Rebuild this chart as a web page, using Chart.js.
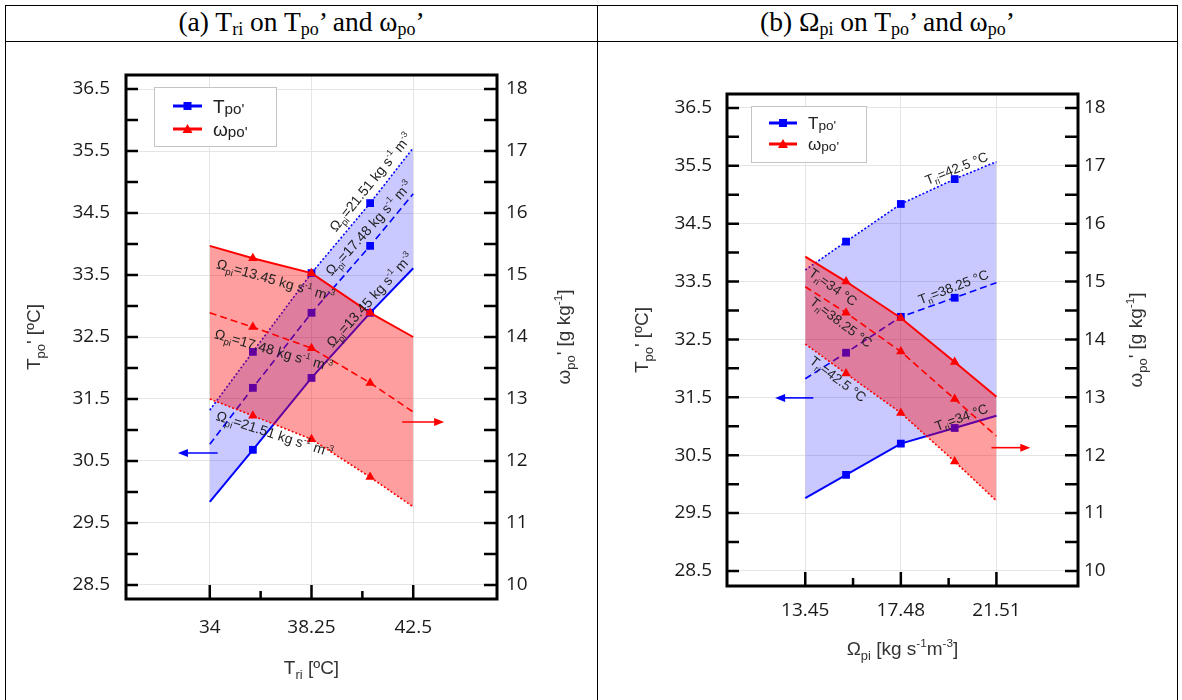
<!DOCTYPE html>
<html>
<head>
<meta charset="utf-8">
<script src="https://cdn.jsdelivr.net/npm/chart.js@4"></script>
<style>
  body { margin: 0; background: #fff; width: 1182px; height: 700px; position: relative; overflow: hidden; }
  .rule { position: absolute; background: #000; }
  .head { position: absolute; top: 6px; height: 35px; line-height: 35px; text-align: center;
          font: 27.5px "Liberation Serif", "Times New Roman", serif; color: #000; }
  .head sub { font-size: 18px; vertical-align: -4px; line-height: 0; }
  canvas { position: absolute; }
</style>
</head>
<body>
<div class="rule" style="left:5px;top:5px;width:1173px;height:1px"></div>
<div class="rule" style="left:5px;top:41px;width:1173px;height:1px"></div>
<div class="rule" style="left:5px;top:5px;width:1px;height:695px"></div>
<div class="rule" style="left:597px;top:5px;width:1px;height:695px"></div>
<div class="rule" style="left:1177px;top:5px;width:1px;height:695px"></div>
<div class="head" style="left:6px;width:591px">(a) T<sub>ri</sub> on T<sub>po</sub>’ and ω<sub>po</sub>’</div>
<div class="head" style="left:598px;width:579px">(b) Ω<sub>pi</sub> on T<sub>po</sub>’ and ω<sub>po</sub>’</div>
<canvas id="ca" width="591" height="658" style="left:6px;top:42px"></canvas>
<canvas id="cb" width="578" height="658" style="left:599px;top:42px"></canvas>
<script>
// ---- data, chart (a): Tri on x ----
const triA = [34, 35.8, 38.25, 40.7, 42.5];
const tpoA_1345 = [29.84, 30.68, 31.84, 32.89, 33.61];
const tpoA_1748 = [30.77, 31.68, 32.89, 33.97, 34.81];
const tpoA_2151 = [31.32, 32.26, 33.53, 34.66, 35.55];
const wpoA_1345 = [15.47, 15.27, 15.03, 14.39, 14.00];
const wpoA_1748 = [14.39, 14.16, 13.82, 13.26, 12.79];
const wpoA_2151 = [13.00, 12.73, 12.35, 11.74, 11.26];
const xTicksA = [34, 38.25, 42.5];
const xLabelsA = ['34', '38.25', '42.5'];

// ---- data, chart (b): Omega_pi on x ----
const omegaB = [13.45, 15.17, 17.48, 19.75, 21.51];
const tpoB_34 = [29.76, 30.16, 30.70, 30.97, 31.18];
const tpoB_3825 = [31.82, 32.27, 32.89, 33.22, 33.48];
const tpoB_425 = [33.70, 34.19, 34.84, 35.27, 35.57];
const wpoB_34 = [15.43, 15.00, 14.37, 13.61, 13.01];
const wpoB_3825 = [14.91, 14.46, 13.79, 12.97, 12.33];
const wpoB_425 = [13.92, 13.41, 12.73, 11.89, 11.21];
const xTicksB = [13.45, 17.48, 21.51];
const xLabelsB = ['13.45', '17.48', '21.51'];

// shared y ticks
const tpoTicks = [28.5, 29.5, 30.5, 31.5, 32.5, 33.5, 34.5, 35.5, 36.5];
const tpoLabels = ['28.5', '29.5', '30.5', '31.5', '32.5', '33.5', '34.5', '35.5', '36.5'];
const wpoTicks = [10, 11, 12, 13, 14, 15, 16, 17, 18];
const wpoLabels = ['10', '11', '12', '13', '14', '15', '16', '17', '18'];

const BLUE = '#0000ff';
const RED = '#ff0000';
const GRID = '#e4e4e4';
const SANS = '"Liberation Sans", Arial, sans-serif';
const TICKFONT = { family: '"Open Sans", sans-serif', size: 19 };

// rich text: _{sub} ^{sup} ~{small}
function parseRich(s) {
  const out = [];
  const re = /([_^~])\{([^}]*)\}/g;
  let last = 0, m;
  while ((m = re.exec(s))) {
    if (m.index > last) out.push({ t: s.slice(last, m.index), k: 'n' });
    out.push({ t: m[2], k: m[1] });
    last = re.lastIndex;
  }
  if (last < s.length) out.push({ t: s.slice(last), k: 'n' });
  return out;
}
const KIND = { n: [1, 0], _: [0.68, 0.25], '^': [0.62, -0.42], '~': [0.8, 0.05] };
function drawRich(ctx, s, x, y, o) {
  const size = o.size;
  const segs = parseRich(s).map(p => {
    const [f, d] = KIND[p.k];
    ctx.font = (size * f) + 'px ' + SANS;
    return { t: p.t, f, d, w: ctx.measureText(p.t).width };
  });
  const total = segs.reduce((a, p) => a + p.w, 0);
  ctx.save();
  ctx.translate(x, y);
  ctx.rotate((o.angle || 0) * Math.PI / 180);
  ctx.fillStyle = o.color || '#222';
  ctx.textAlign = 'left';
  ctx.textBaseline = 'alphabetic';
  let cx = o.align === 'left' ? 0 : -total / 2;
  segs.forEach(p => {
    ctx.font = (size * p.f) + 'px ' + SANS;
    ctx.fillText(p.t, cx, size * 0.36 + p.d * size);
    cx += p.w;
  });
  ctx.restore();
}

function arrow(ctx, x1, x2, y, color) {
  const dir = Math.sign(x2 - x1);
  ctx.save();
  ctx.strokeStyle = color; ctx.fillStyle = color; ctx.lineWidth = 1.6;
  ctx.beginPath(); ctx.moveTo(x1, y); ctx.lineTo(x2 - dir * 8, y); ctx.stroke();
  ctx.beginPath(); ctx.moveTo(x2, y); ctx.lineTo(x2 - dir * 10, y - 4); ctx.lineTo(x2 - dir * 10, y + 4); ctx.closePath(); ctx.fill();
  ctx.restore();
}

function marker(ctx, style, x, y, color) {
  ctx.fillStyle = color;
  ctx.beginPath();
  if (style === 'rect') ctx.rect(x - 4, y - 4, 8, 8);
  else { ctx.moveTo(x, y - 5); ctx.lineTo(x + 5, y + 4); ctx.lineTo(x - 5, y + 4); ctx.closePath(); }
  ctx.fill();
}

function decorate(spec) {
  return {
    id: 'decor',
    afterDraw(chart) {
      const ctx = chart.ctx, a = chart.chartArea, s = chart.scales;
      ctx.save();
      // annotations
      spec.notes.forEach(n => drawRich(ctx, n.text, s.x.getPixelForValue(n.x), s[n.axis].getPixelForValue(n.y),
        { size: spec.noteSize, angle: n.angle, color: '#1e1e1e' }));
      // arrows
      spec.arrows.forEach(r => arrow(ctx, s.x.getPixelForValue(r.from), s.x.getPixelForValue(r.to),
        s[r.axis].getPixelForValue(r.y), r.axis === 'y' ? BLUE : RED));
      // frame
      ctx.strokeStyle = '#000'; ctx.lineWidth = 3;
      ctx.strokeRect(a.left, a.top, a.right - a.left, a.bottom - a.top);
      // inward tick marks
      ctx.lineWidth = 2.5;
      ctx.beginPath();
      const minor = v => v.slice(1).map((t, i) => (t + v[i]) / 2);
      tpoTicks.concat(minor(tpoTicks)).forEach(v => {
        const py = s.y.getPixelForValue(v); ctx.moveTo(a.left, py); ctx.lineTo(a.left + 12, py);
      });
      wpoTicks.concat(minor(wpoTicks)).forEach(v => {
        const py = s.y2.getPixelForValue(v); ctx.moveTo(a.right, py); ctx.lineTo(a.right - 13, py);
      });
      spec.xTicks.forEach(v => { const px = s.x.getPixelForValue(v); ctx.moveTo(px, a.bottom); ctx.lineTo(px, a.bottom - 14); });
      minor(spec.xTicks).forEach(v => { const px = s.x.getPixelForValue(v); ctx.moveTo(px, a.bottom); ctx.lineTo(px, a.bottom - 8); });
      ctx.stroke();
      // axis titles
      const cxm = (a.left + a.right) / 2, cym = (a.top + a.bottom) / 2;
      drawRich(ctx, spec.xTitle, cxm, a.bottom + spec.xTitleDy, { size: 19, color: '#333' });
      drawRich(ctx, "T_{po}' [ºC]", a.left - spec.yTitleDx, cym, { size: 19, angle: -90, color: '#333' });
      drawRich(ctx, "ω_{po}' [g kg^{-1}]", a.right + spec.y2TitleDx, cym, { size: 19, angle: -90, color: '#333' });
      // legend
      const L = spec.legend, bx = a.left + L.dx, by = a.top + L.dy;
      ctx.fillStyle = '#fff'; ctx.fillRect(bx, by, L.w, L.h);
      ctx.strokeStyle = '#c4c4c4'; ctx.lineWidth = 1; ctx.strokeRect(bx + 0.5, by + 0.5, L.w, L.h);
      [["T~{po'}", BLUE, 'rect'], ["ω~{po'}", RED, 'tri']].forEach(([txt, col, st], i) => {
        const ry = by + L.rows[i];
        ctx.strokeStyle = col; ctx.lineWidth = 3;
        ctx.beginPath(); ctx.moveTo(bx + L.l1, ry); ctx.lineTo(bx + L.l2, ry); ctx.stroke();
        marker(ctx, st, bx + (L.l1 + L.l2) / 2, ry, col);
        drawRich(ctx, txt, bx + L.tx, ry, { size: L.size, align: 'left', color: '#222' });
      });
      ctx.restore();
    }
  };
}

function series(xs, ys, axis, color, style, i) {
  const dash = [[], [7, 4], [2, 2]][i];
  const last = xs.length - 1;
  return {
    data: xs.map((x, j) => ({ x, y: ys[j] })),
    yAxisID: axis,
    borderColor: color,
    borderWidth: i === 0 ? 2 : 1.6,
    borderDash: dash,
    tension: 0,
    pointStyle: style,
    pointRadius: xs.map((_, j) => (j === 0 || j === last) ? 0 : 5.5),
    pointBackgroundColor: color,
    pointBorderColor: color,
    pointBorderWidth: 0,
    fill: false,
    order: axis === 'y' ? 1 : 0
  };
}

function makeChart(id, spec) {
  const ds = [];
  spec.blue.forEach((ys, i) => ds.push(series(spec.x, ys, 'y', BLUE, 'rect', i)));
  spec.red.forEach((ys, i) => ds.push(series(spec.x, ys, 'y2', RED, 'triangle', i)));
  ds[2].fill = { target: 0 }; ds[2].backgroundColor = 'rgba(0,0,255,0.21)';
  ds[3].fill = { target: 5 }; ds[3].backgroundColor = 'rgba(255,0,0,0.38)';
  return new Chart(document.getElementById(id), {
    type: 'line',
    data: { datasets: ds },
    options: {
      responsive: false,
      animation: false,
      events: [],
      layout: { padding: { top: spec.top, left: 0, right: 0, bottom: 0 } },
      plugins: { legend: { display: false }, tooltip: { enabled: false } },
      scales: {
        x: {
          type: 'linear', min: spec.xMin, max: spec.xMax,
          afterBuildTicks: sc => { sc.ticks = spec.xTicks.map(v => ({ value: v })); },
          afterFit: sc => { sc.height = spec.xH; },
          ticks: { callback: (v, i) => spec.xLabels[i], font: TICKFONT, color: '#1a1a1a', padding: spec.xPad, maxRotation: 0, autoSkip: false },
          grid: { color: GRID, drawTicks: false },
          border: { display: false }
        },
        y: {
          position: 'left', min: spec.yMin, max: spec.yMax,
          afterBuildTicks: sc => { sc.ticks = tpoTicks.map(v => ({ value: v })); },
          afterFit: sc => { sc.width = spec.yW; },
          ticks: { callback: (v, i) => tpoLabels[i], font: TICKFONT, color: '#1a1a1a', padding: spec.yPad },
          grid: { color: GRID, drawTicks: false },
          border: { display: false }
        },
        y2: {
          position: 'right', min: spec.y2Min, max: spec.y2Max,
          afterBuildTicks: sc => { sc.ticks = wpoTicks.map(v => ({ value: v })); },
          afterFit: sc => { sc.width = spec.y2W; },
          ticks: { callback: (v, i) => wpoLabels[i], font: TICKFONT, color: '#1a1a1a', padding: spec.y2Pad },
          grid: { display: false, drawTicks: false },
          border: { display: false }
        }
      }
    },
    plugins: [decorate(spec)]
  });
}

makeChart('ca', {
  x: triA,
  blue: [tpoA_1345, tpoA_1748, tpoA_2151],
  red: [wpoA_1345, wpoA_1748, wpoA_2151],
  xMin: 30.5, xMax: 46, xTicks: xTicksA, xLabels: xLabelsA,
  yMin: 28.274, yMax: 36.726, y2Min: 9.774, y2Max: 18.226,
  top: 33, yW: 120, y2W: 100, xH: 101, xPad: 17, yPad: 16, y2Pad: 9,
  xTitle: 'T_{ri} [ºC]', xTitleDy: 68, yTitleDx: 93, y2TitleDx: 66,
  noteSize: 14,
  notes: [
    { text: 'Ω_{pi}=21.51 kg s^{-1} m^{-3}', x: 40.71, y: 35.0, axis: 'y', angle: -51 },
    { text: 'Ω_{pi}=17.48 kg s^{-1} m^{-3}', x: 40.63, y: 34.26, axis: 'y', angle: -48 },
    { text: 'Ω_{pi}=13.45 kg s^{-1} m^{-3}', x: 40.67, y: 33.1, axis: 'y', angle: -48 },
    { text: 'Ω_{pi}=13.45 kg s^{-1} m^{-3}', x: 36.75, y: 14.92, axis: 'y2', angle: 16 },
    { text: 'Ω_{pi}=17.48 kg s^{-1} m^{-3}', x: 36.67, y: 13.79, axis: 'y2', angle: 16 },
    { text: 'Ω_{pi}=21.51 kg s^{-1} m^{-3}', x: 36.71, y: 12.44, axis: 'y2', angle: 18 }
  ],
  arrows: [
    { from: 34.33, to: 32.67, y: 30.63, axis: 'y' },
    { from: 42.04, to: 43.79, y: 12.63, axis: 'y2' }
  ],
  legend: { dx: 28, dy: 12, w: 122, h: 59, rows: [19, 42], l1: 19, l2: 48, tx: 59, size: 19 }
});

makeChart('cb', {
  x: omegaB,
  blue: [tpoB_34, tpoB_3825, tpoB_425],
  red: [wpoB_34, wpoB_3825, wpoB_425],
  xMin: 10.15, xMax: 24.95, xTicks: xTicksB, xLabels: xLabelsB,
  yMin: 28.24, yMax: 36.74, y2Min: 9.74, y2Max: 18.24,
  top: 52, yW: 128, y2W: 99, xH: 114, xPad: 13, yPad: 15, y2Pad: 6,
  xTitle: 'Ω_{pi} [kg s^{-1}m^{-3}]', xTitleDy: 62, yTitleDx: 86, y2TitleDx: 57,
  noteSize: 13.5,
  notes: [
    { text: 'T_{ri}=42.5 °C', x: 19.82, y: 35.46, axis: 'y', angle: -22 },
    { text: 'T_{ri}=38.25 °C', x: 19.69, y: 33.41, axis: 'y', angle: -21 },
    { text: 'T_{ri}=34 °C', x: 20.03, y: 31.16, axis: 'y', angle: -20 },
    { text: 'T_{ri}=34 °C', x: 14.63, y: 14.91, axis: 'y2', angle: 35 },
    { text: 'T_{ri}=38.25 °C', x: 14.97, y: 14.30, axis: 'y2', angle: 37 },
    { text: 'T_{ri}=42.5 °C', x: 14.84, y: 13.32, axis: 'y2', angle: 37 }
  ],
  arrows: [
    { from: 13.79, to: 12.18, y: 31.49, axis: 'y' },
    { from: 21.30, to: 22.94, y: 12.13, axis: 'y2' }
  ],
  legend: { dx: 24, dy: 12, w: 115, h: 56, rows: [17, 38], l1: 18, l2: 46, tx: 57, size: 17 }
});
</script>
</body>
</html>
